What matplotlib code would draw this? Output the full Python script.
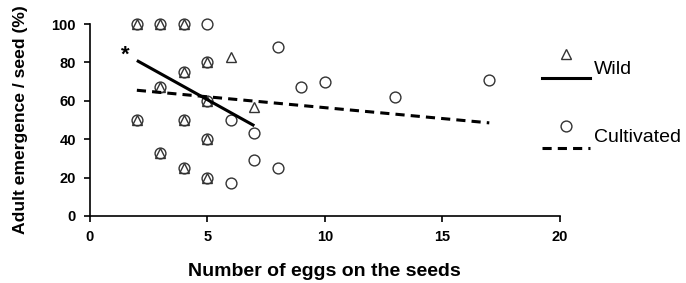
import matplotlib
matplotlib.use("Agg")
import matplotlib.pyplot as plt
from matplotlib.lines import Line2D

plt.rcParams['font.family'] = ['Liberation Sans', 'DejaVu Sans']

# wild seeds
wild_x = [2, 3, 4, 2, 3, 3, 4, 4, 4, 5, 5, 5, 5, 6, 7]
wild_y = [100, 100, 100, 50, 67, 33, 75, 50, 25, 80, 60, 40, 20, 83, 57]
wild_fit_x = [2, 7]
wild_fit_y = [81, 47]

# cultivated seeds
cult_x = [2, 3, 4, 5, 2, 3, 3, 4, 4, 4, 5, 5, 5, 5, 6, 6, 7, 7, 8, 8, 9, 10, 13, 17]
cult_y = [100, 100, 100, 100, 50, 67, 33, 75, 50, 25, 80, 60, 40, 20,
          50, 17, 43, 29, 88, 25, 67, 70, 62, 71]
cult_fit_x = [2, 17]
cult_fit_y = [65.5, 48.5]

MS = 7.8

fig = plt.figure(figsize=(6.86, 2.83), dpi=100)
ax = fig.add_axes([0.131, 0.237, 0.685, 0.678])

ax.plot(cult_x, cult_y, 'o', ms=MS, mfc='none', mec='#333333', mew=1.0, clip_on=False)
ax.plot(wild_x, wild_y, '^', ms=MS, mfc='none', mec='#333333', mew=1.0, clip_on=False)
ax.plot(wild_fit_x, wild_fit_y, '-', color='black', lw=2.2, solid_capstyle='butt')
ax.plot(cult_fit_x, cult_fit_y, '--', color='black', lw=2.2, dashes=(3, 2))
ax.text(1.5, 84, '*', fontsize=16, fontweight='bold', ha='center', va='center')

ax.set_xlim(0, 20)
ax.set_ylim(0, 100)
ax.set_xticks([0, 5, 10, 15, 20])
ax.set_yticks([0, 20, 40, 60, 80, 100])
ax.spines['top'].set_visible(False)
ax.spines['right'].set_visible(False)
ax.spines['left'].set_linewidth(1.2)
ax.spines['bottom'].set_linewidth(1.2)
ax.tick_params(length=4, width=1.2, labelsize=10.5, pad=6)
for lab in ax.get_xticklabels() + ax.get_yticklabels():
    lab.set_fontweight('bold')
ax.set_xlabel('Number of eggs on the seeds', fontsize=14, fontweight='bold', labelpad=14)
ax.set_ylabel('Adult emergence / seed (%)', fontsize=12.6, fontweight='bold', labelpad=17)

# legend drawn by hand: marker above line, label to the right
W, H = 686, 283
def px(x, y):
    return x / W, 1 - y / H

for (my, ly, ty, mk, ls, name) in [(54, 78, 70, '^', '-', 'Wild'),
                                   (126, 148, 137, 'o', '--', 'Cultivated')]:
    mx, myf = px(566, my)
    fig.add_artist(Line2D([mx], [myf], marker=mk, ms=MS, mfc='none', mec='#333333',
                          mew=1.0, transform=fig.transFigure))
    x0, yl = px(542, ly)
    x1, _ = px(590, ly)
    fig.add_artist(Line2D([x0, x1], [yl, yl], ls=ls, color='black', lw=2.2,
                          dashes=(3, 2) if ls == '--' else (None, None),
                          transform=fig.transFigure))
    tx, tyf = px(594, ty)
    fig.text(tx, tyf, name, fontsize=14, ha='left', va='center')

fig.savefig('out.png', dpi=100)
